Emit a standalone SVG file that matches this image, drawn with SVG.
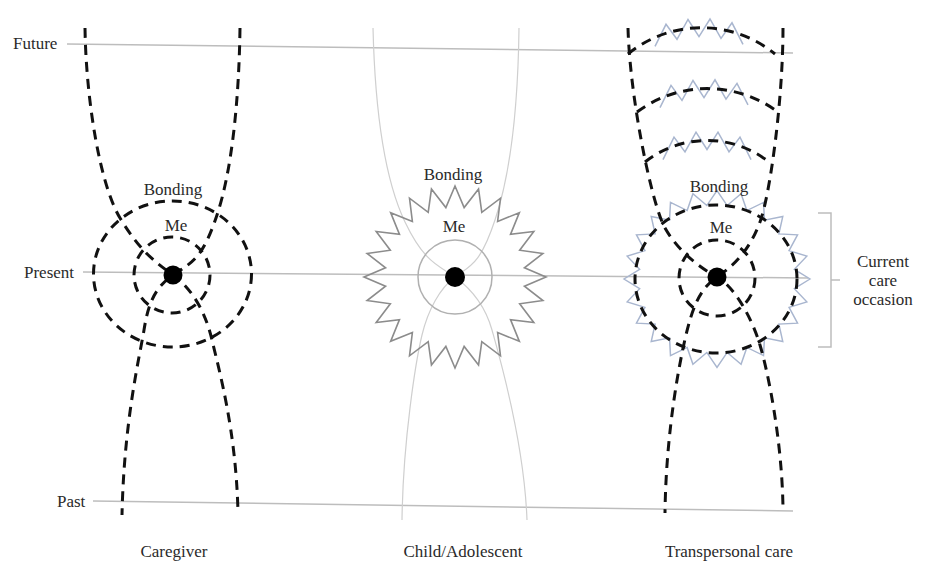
<svg xmlns="http://www.w3.org/2000/svg" xmlns:xlink="http://www.w3.org/1999/xlink" width="931" height="564" viewBox="0 0 931 564">
<style>
text{font-family:"Liberation Serif","Times New Roman",serif;font-size:17px;fill:#2a2a2a}
.mid{text-anchor:middle}
.axis{stroke:#bdbdbd;stroke-width:1.5;fill:none}
.dash{stroke:#111;stroke-width:3;fill:none;stroke-dasharray:10 7}
.thin{stroke:#cfcfcf;stroke-width:1.2;fill:none}
.star{stroke:#8c8c8c;stroke-width:1.6;fill:none;stroke-linejoin:miter}
.bstar{stroke:#a9b6cf;stroke-width:1.5;fill:none}
.zig{stroke:#a9b6cf;stroke-width:1.5;fill:none}
</style>
<defs>
<polygon id="starA" points="91,0 69.4,9.14 87.9,23.55 64.67,26.79 78.81,45.5 55.53,42.61 64.35,64.35 42.61,55.53 45.5,78.81 26.79,64.67 23.55,87.9 9.14,69.4 0,91 -9.14,69.4 -23.55,87.9 -26.79,64.67 -45.5,78.81 -42.61,55.53 -64.35,64.35 -55.53,42.61 -78.81,45.5 -64.67,26.79 -87.9,23.55 -69.4,9.14 -91,0 -69.4,-9.14 -87.9,-23.55 -64.67,-26.79 -78.81,-45.5 -55.53,-42.61 -64.35,-64.35 -42.61,-55.53 -45.5,-78.81 -26.79,-64.67 -23.55,-87.9 -9.14,-69.4 0,-91 9.14,-69.4 23.55,-87.9 26.79,-64.67 45.5,-78.81 42.61,-55.53 64.35,-64.35 55.53,-42.61 78.81,-45.5 64.67,-26.79 87.9,-23.55 69.4,-9.14"/>
<polygon id="starB" points="93,0 77.33,10.18 89.83,24.07 72.06,29.85 80.54,46.5 61.88,47.48 65.76,65.76 47.48,61.88 46.5,80.54 29.85,72.06 24.07,89.83 10.18,77.33 0,93 -10.18,77.33 -24.07,89.83 -29.85,72.06 -46.5,80.54 -47.48,61.88 -65.76,65.76 -61.88,47.48 -80.54,46.5 -72.06,29.85 -89.83,24.07 -77.33,10.18 -93,0 -77.33,-10.18 -89.83,-24.07 -72.06,-29.85 -80.54,-46.5 -61.88,-47.48 -65.76,-65.76 -47.48,-61.88 -46.5,-80.54 -29.85,-72.06 -24.07,-89.83 -10.18,-77.33 0,-93 10.18,-77.33 24.07,-89.83 29.85,-72.06 46.5,-80.54 47.48,-61.88 65.76,-65.76 61.88,-47.48 80.54,-46.5 72.06,-29.85 89.83,-24.07 77.33,-10.18"/>
</defs>
<rect width="931" height="564" fill="#fff"/>

<g id="timeline">
<line class="axis" x1="67" y1="44" x2="793" y2="53"/>
<line class="axis" x1="83" y1="272" x2="808" y2="278"/>
<line class="axis" x1="93" y1="501" x2="793" y2="511"/>
<text x="13" y="49">Future</text>
<text x="24" y="278">Present</text>
<text x="57" y="507">Past</text>
</g>

<g id="caregiver">
<ellipse class="dash" cx="172.5" cy="274" rx="79" ry="73"/>
<circle class="dash" cx="172" cy="275" r="38"/>
<path class="dash" d="M85,28 C86,100 100,185 120,218 S155,262 173,275 S205,310 212,340 S236,430 238,512"/>
<path class="dash" d="M240,28 C239,100 232,170 217,215 S192,262 173,275 S148,305 144,330 S124,420 122,515"/>
<circle cx="173" cy="275" r="9.5" fill="#000"/>
<text class="mid" x="173" y="195">Bonding</text>
<text class="mid" x="176" y="231">Me</text>
<text class="mid" x="174" y="557">Caregiver</text>
</g>

<g id="child">
<path class="thin" d="M373,28 C375,110 385,180 405,222 S440,266 455,277 S485,305 492,330 S524,440 527,520"/>
<path class="thin" d="M519,28 C518,110 510,175 495,220 S470,266 455,277 S428,310 422,335 S403,440 402,520"/>
<use xlink:href="#starA" class="star" transform="translate(455,277)"/>
<circle cx="455" cy="277" r="37" fill="none" stroke="#b0b0b0" stroke-width="1.5"/>
<circle cx="455" cy="277" r="10" fill="#000"/>
<text class="mid" x="453" y="180">Bonding</text>
<text class="mid" x="454" y="232">Me</text>
<text class="mid" x="463" y="557">Child/Adolescent</text>
</g>

<g id="transpersonal">
<use xlink:href="#starB" class="bstar" transform="translate(717,279) scale(1,0.95)"/>
<polyline class="zig" points="655,46.4 666,24.3 677,39.3 688,19.5 699,36.7 710,19 721,38.4 732,22.8 743,44.4"/>
<polyline class="zig" points="660,107.6 671,85.4 682,100.4 693,80.5 704,97.65 715,79.8 726,99.1 737,83.35 748,104.8"/>
<polyline class="zig" points="663,159.7 674,137.1 685,151.95 696,132.1 707,149.5 718,132.1 729,151.95 740,137.1 751,159.7"/>
<path class="dash" d="M628,54 A116,116 0 0 1 775,54"/>
<path class="dash" d="M637,112 A118,118 0 0 1 778,112"/>
<path class="dash" d="M645,162 A100,100 0 0 1 769,162"/>
<ellipse class="dash" cx="716" cy="279" rx="81" ry="74"/>
<circle class="dash" cx="717" cy="278" r="38"/>
<path class="dash" d="M628,28 C630,100 652,205 665,228 S700,268 717,277 S752,318 760,345 S782,440 783,508"/>
<path class="dash" d="M783,28 C783,100 770,195 760,222 S735,265 717,277 S692,310 686,335 S666,430 665,513"/>
<circle cx="717" cy="277" r="9.5" fill="#000"/>
<text class="mid" x="719" y="192">Bonding</text>
<text class="mid" x="721" y="233">Me</text>
<text class="mid" x="729" y="557">Transpersonal care</text>
</g>

<g id="occasion">
<path class="axis" d="M818,213 H831 V347 H818 M831,280 H840"/>
<text class="mid" x="883" y="267">Current</text>
<text class="mid" x="883" y="286">care</text>
<text class="mid" x="883" y="305">occasion</text>
</g>
</svg>
